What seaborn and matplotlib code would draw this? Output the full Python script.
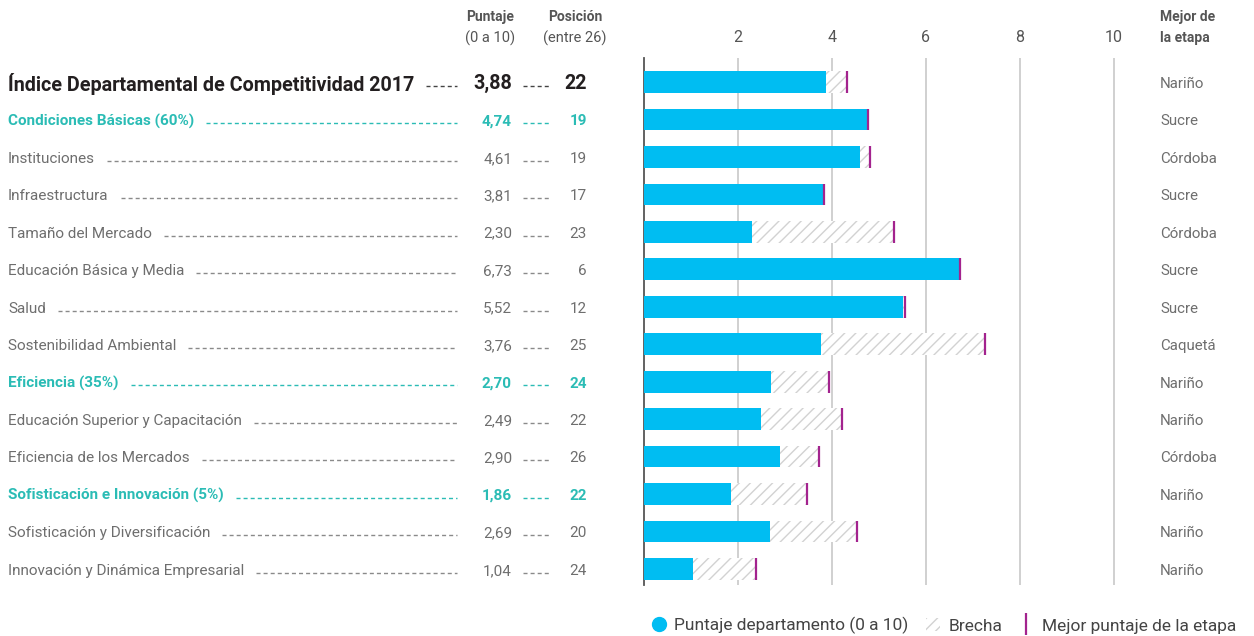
import matplotlib

matplotlib.use("Agg")
import matplotlib.pyplot as plt
import matplotlib.transforms as mtransforms
import pandas as pd
import seaborn as sns
from matplotlib.lines import Line2D
from matplotlib.patches import Patch

# Values
LABELS = [
    "Índice Departamental de Competitividad 2017",
    "Condiciones Básicas (60%)",
    "Instituciones",
    "Infraestructura",
    "Tamaño del Mercado",
    "Educación Básica y Media",
    "Salud",
    "Sostenibilidad Ambiental",
    "Eficiencia (35%)",
    "Educación Superior y Capacitación",
    "Eficiencia de los Mercados",
    "Sofisticación e Innovación (5%)",
    "Sofisticación y Diversificación",
    "Innovación y Dinámica Empresarial",
]
LEVELS = ["title", "section", "item", "item", "item", "item", "item", "item",
          "section", "item", "item", "section", "item", "item"]
SCORES = [3.88, 4.74, 4.61, 3.81, 2.30, 6.73, 5.52, 3.76, 2.70, 2.49, 2.90, 1.86, 2.69, 1.04]
POSITIONS = [22, 19, 19, 17, 23, 6, 12, 25, 24, 22, 26, 22, 20, 24]
BEST = [4.32, 4.77, 4.81, 3.83, 5.32, 6.74, 5.56, 7.26, 3.93, 4.21, 3.72, 3.47, 4.53, 2.38]
BEST_DEPT = ["Nariño", "Sucre", "Córdoba", "Sucre", "Córdoba", "Sucre", "Sucre",
             "Caquetá", "Nariño", "Nariño", "Córdoba", "Nariño", "Nariño", "Nariño"]
X_TICKS = [2, 4, 6, 8, 10]
LEGEND_LABELS = ["Puntaje departamento (0 a 10)", "Brecha", "Mejor puntaje de la etapa"]

W, H = 1254, 636
BLUE = "#00bdf2"
PURPLE = "#a3238e"
TEAL = "#2bbcb5"
GRAY = "#6e6e6e"
DARK = "#231f20"
HEAD = "#555555"
HATCH_GRAY = "#d2d2d2"

STYLE = {
    "title": dict(size=14.2, weight="bold", color=DARK, lead="#444444"),
    "section": dict(size=11, weight="bold", color=TEAL, lead=TEAL),
    "item": dict(size=11, weight="normal", color=GRAY, lead="#8a8a8a"),
}

sns.set_theme(style="white")
plt.rcParams["font.family"] = ["Roboto", "DejaVu Sans"]
plt.rcParams["hatch.linewidth"] = 1.0
plt.rcParams["lines.scale_dashes"] = False

fig = plt.figure(figsize=(W / 100, H / 100), dpi=100)
ax = fig.add_axes([644 / W, 1 - 585 / H, (1132 - 644) / W, (585 - 58) / H])

df = pd.DataFrame({"label": LABELS, "score": SCORES, "best": BEST})
rows = list(range(len(LABELS)))

# gap bars (hatched up to the best score), then the department score on top
sns.barplot(data=df, x="best", y="label", orient="h", color="white", saturation=1,
            width=0.58, errorbar=None, hatch="///", edgecolor=HATCH_GRAY,
            linewidth=0, ax=ax, zorder=2)
sns.barplot(data=df, x="score", y="label", orient="h", color=BLUE, saturation=1,
            width=0.58, errorbar=None, linewidth=0, ax=ax, zorder=3)
ax.vlines(BEST, [r - 0.29 for r in rows], [r + 0.29 for r in rows],
          color=PURPLE, lw=1.6, zorder=4)

ax.set_xlim(0, (1132 - 644) / 46.95)
ax.set_ylim(13 + (585 - 569) / 37.45, -(82 - 58) / 37.45)
ax.set_xticks(X_TICKS)
ax.set_yticks([])
ax.set_xlabel("")
ax.set_ylabel("")
ax.xaxis.tick_top()
ax.tick_params(axis="x", length=0, pad=9, labelsize=11.5, labelcolor=HEAD)
ax.grid(axis="x", color="#c4c4c4", lw=1.1)
ax.grid(axis="y", visible=False)
ax.set_axisbelow(True)
for side in ["top", "right", "bottom"]:
    ax.spines[side].set_visible(False)
ax.spines["left"].set_color("#555555")
ax.spines["left"].set_linewidth(1.3)

trans = mtransforms.blended_transform_factory(fig.transFigure, ax.transData)
dy = 0.05  # nudge text down a little so it sits on the bar centre

# left table: label, score, position + right column with best department
label_texts = []
for i, (lab, lvl) in enumerate(zip(LABELS, LEVELS)):
    st = STYLE[lvl]
    t = fig.text(8 / W, i + dy, lab, transform=trans, ha="left", va="center",
                 fontsize=st["size"], fontweight=st["weight"], color=st["color"])
    label_texts.append(t)
    fig.text(512 / W, i + dy, f"{SCORES[i]:.2f}".replace(".", ","), transform=trans,
             ha="right", va="center", fontsize=st["size"], fontweight=st["weight"],
             color=st["color"])
    fig.text(587 / W, i + dy, str(POSITIONS[i]), transform=trans, ha="right", va="center",
             fontsize=st["size"], fontweight=st["weight"], color=st["color"])
    fig.text(1160 / W, i + dy, BEST_DEPT[i], transform=trans, ha="left", va="center",
             fontsize=10.8, color=GRAY)

# headers
for x, top, bottom in [(490, "Puntaje", "(0 a 10)"), (575, "Posición", "(entre 26)")]:
    fig.text(x / W, 1 - 17 / H, top, ha="center", va="center", fontsize=10,
             fontweight="bold", color=HEAD)
    fig.text(x / W, 1 - 38 / H, bottom, ha="center", va="center", fontsize=10.5,
             color=HEAD)
fig.text(1160 / W, 1 - 17 / H, "Mejor de", ha="left", va="center", fontsize=10,
         fontweight="bold", color=HEAD)
fig.text(1160 / W, 1 - 38 / H, "la etapa", ha="left", va="center", fontsize=10,
         fontweight="bold", color=HEAD)

# dotted leaders need the rendered label widths
renderer = fig.canvas.get_renderer()
for i, t in enumerate(label_texts):
    st = STYLE[LEVELS[i]]
    x_end = t.get_window_extent(renderer).x1
    for x0, x1 in [(x_end + 12, 457), (523, 551)]:
        fig.add_artist(Line2D([x0 / W, x1 / W], [i + 0.1, i + 0.1], transform=trans,
                              color=st["lead"], lw=1.0, ls=(0, (2.9, 2.2))))

handles = [
    Line2D([], [], marker="o", ls="", color=BLUE, markersize=10),
    Patch(facecolor="white", edgecolor=HATCH_GRAY, hatch="///", lw=0),
    Line2D([], [], marker="|", ls="", color=PURPLE, markersize=16, mew=1.6),
]
fig.legend(handles, LEGEND_LABELS, loc="lower right", bbox_to_anchor=(1252 / W, -0.022),
           ncol=3, frameon=False, fontsize=12.5, handlelength=0.8, handletextpad=0.5,
           columnspacing=1.0, labelcolor="#444444")

fig.savefig("out.png", dpi=100, facecolor="white")
